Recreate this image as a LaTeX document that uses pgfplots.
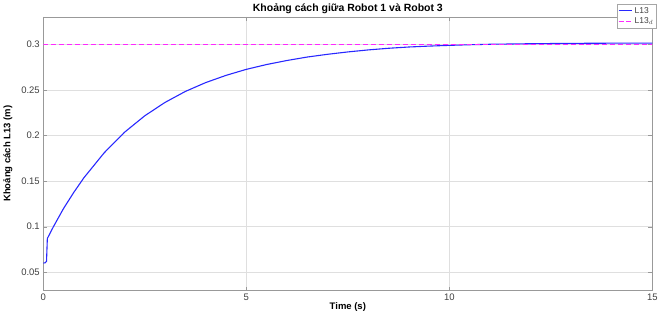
\documentclass[border=0pt]{standalone}
\usepackage{pgfplots}
\pgfplotsset{compat=1.18}
\usepackage{fontspec}
\setmainfont{Liberation Sans}
\definecolor{tickgray}{RGB}{64,64,64}
\definecolor{gridgray}{RGB}{223,223,223}
\definecolor{myblue}{RGB}{40,40,255}
\definecolor{mymag}{RGB}{255,40,255}
\begin{document}
\begin{tikzpicture}
\begin{axis}[
  scale only axis,
  width=610pt, height=274pt,
  xmin=0, xmax=15, ymin=0.03, ymax=0.33,
  xtick={0,5,10,15},
  ytick={0.05,0.1,0.15,0.2,0.25,0.3},
  yticklabels={0.05,0.1,0.15,0.2,0.25,0.3},
  /pgf/number format/assume math mode=true,
  tick label style={font=\fontsize{9.5}{11}\selectfont, text=tickgray},
  grid=major,
  major grid style={gridgray, line width=0.5pt},
  axis line style={draw=gray!80},
  tick style={draw=gray!80},
  tick align=inside,
  major tick length=4pt,
  title={\textbf{Khoảng cách giữa Robot 1 và Robot 3}},
  title style={font=\fontsize{10.5}{12}\selectfont, yshift=-6pt},
  xlabel={\textbf{Time (s)}},
  ylabel={\textbf{Khoảng cách L13 (m)}},
  label style={font=\fontsize{9.5}{11}\selectfont},
  xlabel style={yshift=5pt},
  ylabel style={yshift=2pt},
  legend style={at={(1,1)}, anchor=north east, xshift=4pt, yshift=13pt,
    font=\fontsize{8.5}{9}\selectfont, draw=gray!70, fill=white,
    inner sep=1pt, row sep=-1pt, text=tickgray},
  legend cell align=left,
  legend image post style={xscale=0.8},
]
\addplot[myblue, line width=1.1pt] coordinates {
(0,0.060) (0.05,0.0605) (0.08,0.062) (0.1,0.087) (0.25,0.100) (0.5,0.120)
(0.75,0.1375) (1,0.1536) (1.5,0.181) (2,0.2035) (2.5,0.2216) (3,0.2363)
(3.5,0.2483) (4,0.258) (4.5,0.2659) (5,0.2725) (5.5,0.2778) (6,0.2822)
(6.5,0.2860) (7,0.2890) (7.5,0.2916) (8,0.2938) (8.5,0.2956) (9,0.2970)
(9.5,0.2980) (10,0.2988) (10.5,0.2995) (11,0.3000) (12,0.3006) (13,0.3010)
(14,0.3012) (15,0.3013)
};
\addlegendentry{L13}
\addplot[mymag, dash pattern=on 5pt off 3pt, line width=1.1pt] coordinates {(0,0.3) (15,0.3)};
\addlegendentry{L13$_d$}
\end{axis}
\end{tikzpicture}
\end{document}
